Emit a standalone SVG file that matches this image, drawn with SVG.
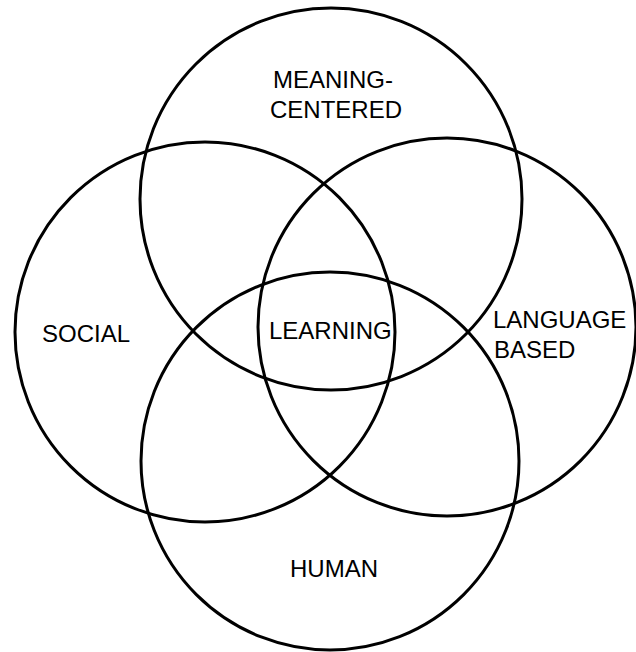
<svg xmlns="http://www.w3.org/2000/svg" width="636" height="652" viewBox="0 0 636 652">
<style>
.c{fill:none;stroke:#000;stroke-width:3}
.t{font-family:"Liberation Sans",Arial,sans-serif;font-size:24px;fill:#000}
</style>
<rect width="636" height="652" fill="#fff"/>
<g id="meaning"><circle class="c" cx="331" cy="199" r="191"/><text class="t" x="273" y="88">MEANING-</text><text class="t" x="270" y="118">CENTERED</text></g>
<g id="social"><circle class="c" cx="205" cy="332" r="190"/><text class="t" x="42" y="342">SOCIAL</text></g>
<g id="language"><circle class="c" cx="447" cy="327" r="189"/><text class="t" x="493" y="328">LANGUAGE</text><text class="t" x="494" y="358">BASED</text></g>
<g id="human"><circle class="c" cx="330" cy="461" r="189"/><text class="t" x="290" y="577">HUMAN</text></g>
<g id="learning"><text class="t" x="269" y="339">LEARNING</text></g>
<g id="connectors"/>
</svg>
